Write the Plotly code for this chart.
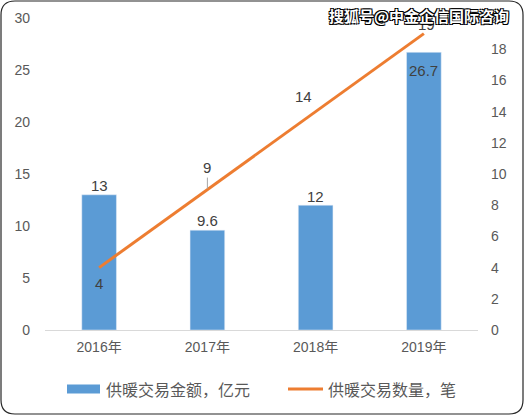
import plotly.graph_objects as go

years = ["2016年", "2017年", "2018年", "2019年"]
amount = [13, 9.6, 12, 26.7]        # 供暖交易金额，亿元
count = [4, 9, 14, 19]              # 供暖交易数量，笔
amount_labels = ["13", "9.6", "12", "26.7"]
count_labels = ["4", "9", "14", "19"]
series_names = ["供暖交易金额，亿元", "供暖交易数量，笔"]

W, H = 528, 417
L, R, T, B = 45, 50, 18, 87
pw, ph = W - L - R, H - T - B

def px(x):
    return (x - L) / pw

def py(y):
    return (H - B - y) / ph

BLUE, ORANGE = "#5B9BD5", "#ED7D31"
TXT = "#595959"
LBL = "#404040"
CJK = "Noto Sans CJK SC"

fig = go.Figure()
fig.add_trace(go.Bar(
    x=years, y=amount, name=series_names[0],
    marker=dict(color=BLUE), width=0.32,
    cliponaxis=False, showlegend=False,
))
fig.add_trace(go.Scatter(
    x=years, y=count, name=series_names[1], yaxis="y2",
    mode="lines",
    line=dict(color=ORANGE, width=3),
    cliponaxis=False, showlegend=False,
))

# bar value labels
bar_shift = [9, 10, 9, -18]
for xv, yv, t, s in zip(years, amount, amount_labels, bar_shift):
    fig.add_annotation(x=xv, y=yv, xref="x", yref="y", text=t, showarrow=False,
                       yshift=s, yanchor="middle",
                       font=dict(size=15, color=LBL))

# line value labels
line_shift = [(0, -16), (0, 22), (-12, 15), (3, 9)]
for i, (xv, yv, t) in enumerate(zip(years, count, count_labels)):
    dx, dy = line_shift[i]
    if i == 1:
        fig.add_annotation(x=xv, y=yv, xref="x", yref="y2", text=t, showarrow=True,
                           arrowhead=0, arrowwidth=1, arrowcolor="#A6A6A6",
                           ax=dx, ay=-dy, standoff=1,
                           font=dict(size=15, color=LBL))
    else:
        fig.add_annotation(x=xv, y=yv, xref="x", yref="y2", text=t, showarrow=False,
                           xshift=dx, yshift=dy, yanchor="middle",
                           font=dict(size=15, color=LBL))

# rounded border
x0, y0, x1, y1, r = 1, 1, 523, 414, 14
path = (f"M {px(x0+r)},{py(y0)} L {px(x1-r)},{py(y0)} Q {px(x1)},{py(y0)} {px(x1)},{py(y0+r)} "
        f"L {px(x1)},{py(y1-r)} Q {px(x1)},{py(y1)} {px(x1-r)},{py(y1)} "
        f"L {px(x0+r)},{py(y1)} Q {px(x0)},{py(y1)} {px(x0)},{py(y1-r)} "
        f"L {px(x0)},{py(y0+r)} Q {px(x0)},{py(y0)} {px(x0+r)},{py(y0)} Z")
fig.add_shape(type="path", path=path, xref="paper", yref="paper",
              line=dict(color="#262626", width=1.2), layer="above")

# custom legend
ly = 389
fig.add_shape(type="rect", xref="paper", yref="paper",
              x0=px(67), x1=px(100), y0=py(ly - 4.5), y1=py(ly + 4.5),
              fillcolor=BLUE, line=dict(width=0))
fig.add_annotation(text=series_names[0], xref="paper", yref="paper",
                   x=px(104), y=py(ly), xanchor="left", yanchor="middle", showarrow=False,
                   font=dict(family=CJK, size=16, color=TXT))
fig.add_shape(type="line", xref="paper", yref="paper",
              x0=px(288), x1=px(323), y0=py(ly), y1=py(ly),
              line=dict(color=ORANGE, width=3))
fig.add_annotation(text=series_names[1], xref="paper", yref="paper",
                   x=px(326), y=py(ly), xanchor="left", yanchor="middle", showarrow=False,
                   font=dict(family=CJK, size=16, color=TXT))

fig.add_annotation(
    text="<b>搜狐号@中金企信国际咨询</b>", xref="paper", yref="paper",
    x=px(511), y=py(15), xanchor="right", yanchor="middle", showarrow=False,
    font=dict(family=CJK, size=15, color="white",
              shadow="1px 1px 0 #000, -1px -1px 0 #000, 1px -1px 0 #000, -1px 1px 0 #000"),
)

fig.update_layout(
    width=W, height=H,
    margin=dict(l=L, r=R, t=T, b=B, autoexpand=False),
    paper_bgcolor="white", plot_bgcolor="white",
    font=dict(family="Liberation Sans, Noto Sans CJK SC", size=13, color=TXT),
    showlegend=False,
    bargap=0.68,
    xaxis=dict(showgrid=False, showline=True, linecolor="#D9D9D9", linewidth=1,
               ticks="", tickfont=dict(size=14, color=TXT), ticklabelstandoff=4),
    yaxis=dict(range=[0, 30], dtick=5, showgrid=False, zeroline=False, showline=False,
               ticks="", tickfont=dict(size=14, color=TXT), ticklabelstandoff=14),
    yaxis2=dict(range=[0, 20], dtick=2, overlaying="y", side="right", showgrid=False,
                zeroline=False, showline=False, ticks="",
                tickfont=dict(size=14, color=TXT), ticklabelstandoff=12),
)

fig.write_html("out.html", config={"displayModeBar": False})
with open("out.html", encoding="utf-8") as f:
    html = f.read()
html = html.replace("<head>", "<head><style>html,body{margin:0;padding:0;}</style>", 1)
with open("out.html", "w", encoding="utf-8") as f:
    f.write(html)
